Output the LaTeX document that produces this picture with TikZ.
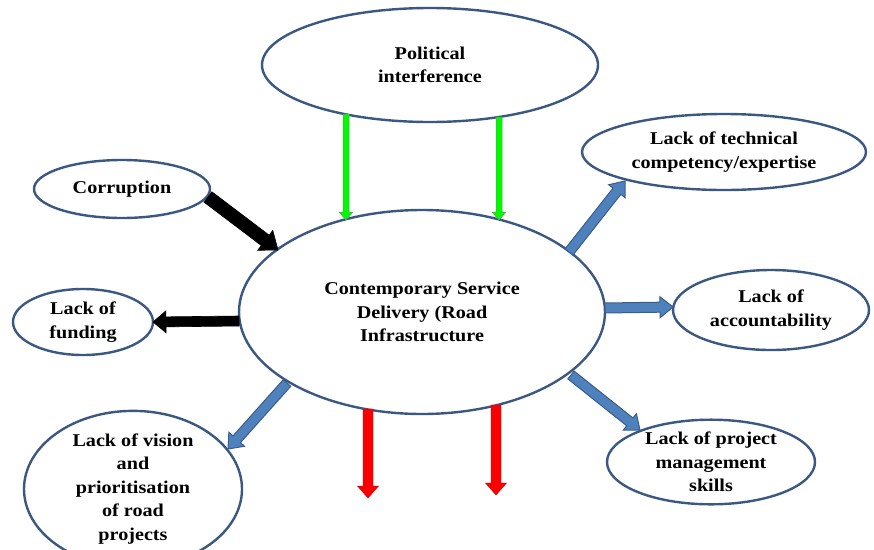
\documentclass[tikz,border=0pt]{standalone}
\usepackage{fontspec}
\setmainfont{Liberation Serif}[FakeStretch=1.12]
\usetikzlibrary{shapes.geometric,calc}

\definecolor{ringblue}{RGB}{59,88,130}
\definecolor{arrowblue}{RGB}{79,129,189}
\definecolor{arrowedge}{RGB}{56,93,138}
\definecolor{brightgreen}{RGB}{0,250,0}
\definecolor{greenedge}{RGB}{110,150,110}
\definecolor{brightred}{RGB}{250,0,0}

% Block arrow drawn as a polygon from tail #2 to tip #3:
% #4 half shaft width, #5 half head width, #6 head length
\newcommand\blockarrow[6]{%
  \filldraw[#1] let \p1=(#2), \p2=(#3),
      \n1={atan2(\y2-\y1,\x2-\x1)}, \n2={veclen(\x2-\x1,\y2-\y1)} in
    ($(\p1)+({\n1+90}:#4)$)
    -- ($(\p1)+(\n1:{\n2*1pt-#6})+({\n1+90}:#4)$)
    -- ($(\p1)+(\n1:{\n2*1pt-#6})+({\n1+90}:#5)$)
    -- (\p2)
    -- ($(\p1)+(\n1:{\n2*1pt-#6})+({\n1-90}:#5)$)
    -- ($(\p1)+(\n1:{\n2*1pt-#6})+({\n1-90}:#4)$)
    -- ($(\p1)+({\n1-90}:#4)$) -- cycle;
}

\tikzset{
  bubble/.style={ellipse, draw=ringblue, line width=2.4pt, fill=white,
    inner sep=0pt, align=center,
    font=\bfseries\fontsize{18}{23.5}\selectfont},
  blackarrow/.style={fill=black, draw=black, line width=0.6pt},
  bluearrow/.style={fill=arrowblue, draw=arrowedge, line width=1pt},
  greenarrow/.style={fill=brightgreen, draw=greenedge, line width=0.5pt},
  redarrow/.style={fill=brightred, draw=brightred!80!black, line width=0.4pt},
}

\begin{document}
\begin{tikzpicture}[x=1pt, y=-1pt]
\useasboundingbox (0,0) rectangle (874,549);
\clip (0,0) rectangle (874,549);

% ellipses
\node[bubble, minimum width=336pt, minimum height=114pt] (pol) at (430,65) {Political\\interference};
\node[bubble, minimum width=176pt, minimum height=58pt] (corr) at (122,189) {Corruption};
\node[bubble, minimum width=284pt, minimum height=76pt] (tech) at (724,152) {Lack of technical\\competency/expertise};
\node[bubble, minimum width=366pt, minimum height=204pt] (cen) at (422,312) {Contemporary Service\\Delivery (Road\\Infrastructure};
\node[bubble, minimum width=140pt, minimum height=66pt] (fund) at (83,322) {Lack of\\funding};
\node[bubble, minimum width=196pt, minimum height=80pt] (acc) at (771,310) {Lack of\\accountability};
\node[bubble, minimum width=218pt, minimum height=136pt] (vis) at (133,489) {Lack of vision\\and\\prioritisation\\of road\\projects};
\node[bubble, minimum width=208pt, minimum height=80pt] (proj) at (711,462) {Lack of project\\management\\skills};

% arrow end points on the ellipse rims
\coordinate (g1a) at ($(pol.center)+(-84,49)$);
\coordinate (g1b) at ($(cen.center)+(-76,-92)$);
\coordinate (g2a) at ($(pol.center)+(69,52)$);
\coordinate (g2b) at ($(cen.center)+(77,-92)$);

\coordinate (ca) at ($(corr.center)+(86,8)$);
\coordinate (cb) at ($(cen.center)+(-144,-62)$);
\coordinate (fa) at ($(cen.center)+(-183,9)$);
\coordinate (fb) at ($(fund.center)+(70,0)$);

\coordinate (ta) at ($(cen.center)+(147,-60)$);
\coordinate (tb) at ($(tech.center)+(-99,29)$);
\coordinate (aa) at ($(cen.center)+(183,-4)$);
\coordinate (ab) at ($(acc.center)+(-98,-3)$);
\coordinate (pa) at ($(cen.center)+(149,63)$);
\coordinate (pb) at ($(proj.center)+(-71,-32)$);
\coordinate (va) at ($(cen.center)+(-135,71)$);
\coordinate (vb) at ($(vis.center)+(95,-40)$);

\coordinate (r1a) at ($(cen.center)+(-54,97)$);
\coordinate (r1b) at ($(cen.center)+(-54,186)$);
\coordinate (r2a) at ($(cen.center)+(74,93)$);
\coordinate (r2b) at ($(cen.center)+(74,183)$);

% arrows
\blockarrow{greenarrow}{g1a}{g1b}{3pt}{7pt}{8pt}
\blockarrow{greenarrow}{g2a}{g2b}{3pt}{7pt}{8pt}
\blockarrow{blackarrow}{ca}{cb}{6.5pt}{12.5pt}{16pt}
\blockarrow{blackarrow}{fa}{fb}{5pt}{11pt}{13pt}
\blockarrow{bluearrow}{ta}{tb}{5pt}{10.5pt}{13pt}
\blockarrow{bluearrow}{aa}{ab}{5pt}{10.5pt}{13pt}
\blockarrow{bluearrow}{pa}{pb}{5pt}{10.5pt}{13pt}
\blockarrow{bluearrow}{va}{vb}{5pt}{10.5pt}{13pt}
\blockarrow{redarrow}{r1a}{r1b}{5pt}{10.5pt}{12pt}
\blockarrow{redarrow}{r2a}{r2b}{5pt}{10.5pt}{12pt}
\end{tikzpicture}
\end{document}
